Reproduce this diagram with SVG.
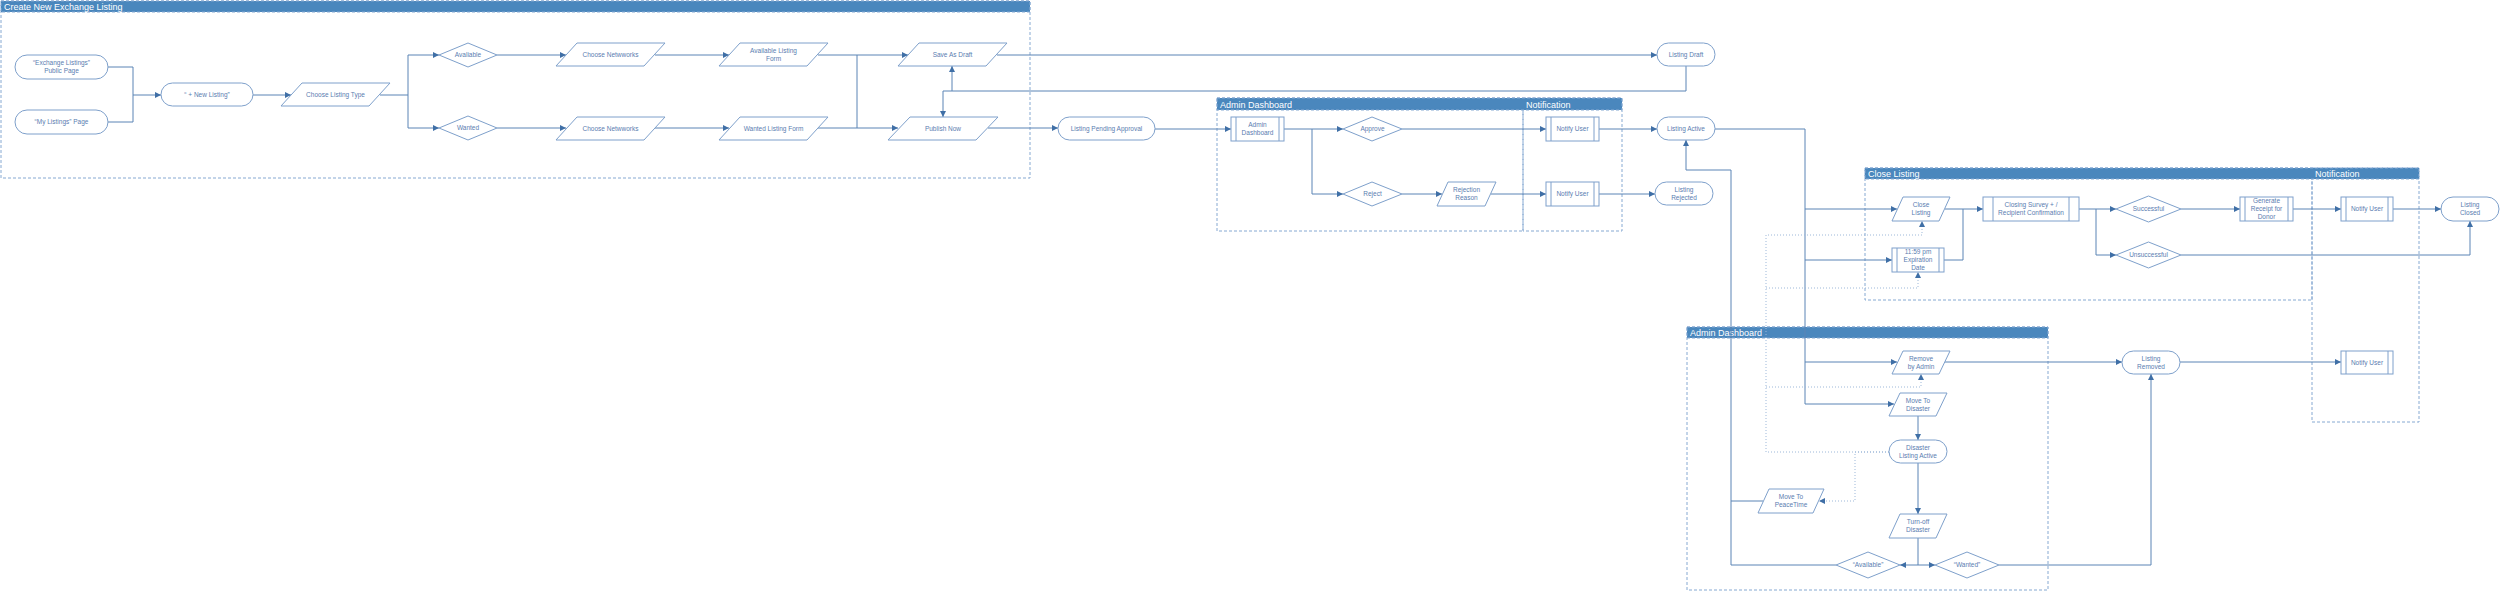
<svg xmlns="http://www.w3.org/2000/svg" width="2500" height="591" viewBox="0 0 2500 591">
<style>
.bg{fill:#ffffff}
.cont{fill:none;stroke:#86a9d2;stroke-width:1;stroke-dasharray:3 2}
.hdr{fill:#4a87bd;stroke:#86a9d2;stroke-width:1;stroke-dasharray:3 2}
.htx{font-family:"Liberation Sans",Arial,sans-serif;font-size:9px;fill:#ffffff}
.n{fill:#ffffff;stroke:#7ea0cb;stroke-width:1}
.t{font-family:"Liberation Sans",Arial,sans-serif;font-size:6.5px;fill:#5a7db0;text-anchor:middle}
.c{fill:none;stroke:#5b84b5;stroke-width:1}
.d{fill:none;stroke:#9db8d9;stroke-width:1;stroke-dasharray:1 2}
</style>
<defs>
<marker id="a" markerUnits="userSpaceOnUse" markerWidth="8" markerHeight="8" refX="6" refY="3" orient="auto"><path d="M0,0 L6,3 L0,6 Z" fill="#3f6fa6"/></marker>
</defs>
<rect class="bg" x="0" y="0" width="2500" height="591"/>

<g id="containers">
<rect class="cont" x="1" y="1" width="1029" height="177"/>
<rect class="hdr" x="1" y="1" width="1029" height="11"/>
<text class="htx" x="4" y="9.5">Create New Exchange Listing</text>

<rect class="cont" x="1217" y="98" width="306" height="133"/>
<rect class="cont" x="1523" y="98" width="99" height="133"/>
<rect class="hdr" x="1217" y="98" width="405" height="12"/>
<text class="htx" x="1220" y="107.5">Admin Dashboard</text>
<text class="htx" x="1526" y="107.5">Notification</text>

<rect class="cont" x="1865" y="168" width="447" height="132"/>
<rect class="cont" x="2312" y="168" width="107" height="254"/>
<rect class="hdr" x="1865" y="168" width="554" height="11"/>
<text class="htx" x="1868" y="177">Close Listing</text>
<text class="htx" x="2315" y="177">Notification</text>

<rect class="cont" x="1687" y="327" width="361" height="263"/>
<rect class="hdr" x="1687" y="327" width="361" height="11"/>
<text class="htx" x="1690" y="336">Admin Dashboard</text>
</g>

<g id="connectors">
<path class="c" d="M108,67 H133 V95 H161" marker-end="url(#a)"/>
<path class="c" d="M108,122 H133 V95"/>
<path class="c" d="M253,95 H291" marker-end="url(#a)"/>
<path class="c" d="M380,95 H408 V55 H439" marker-end="url(#a)"/>
<path class="c" d="M408,95 V128 H439" marker-end="url(#a)"/>
<path class="c" d="M497,55 H566" marker-end="url(#a)"/>
<path class="c" d="M497,128 H566" marker-end="url(#a)"/>
<path class="c" d="M655,55 H729" marker-end="url(#a)"/>
<path class="c" d="M655,128 H729" marker-end="url(#a)"/>
<path class="c" d="M818,55 H857 H908" marker-end="url(#a)"/>
<path class="c" d="M818,128 H857 H898" marker-end="url(#a)"/>
<path class="c" d="M857,55 V128"/>
<path class="c" d="M997,55 H1657" marker-end="url(#a)"/>
<path class="c" d="M1686,66 V91 H943 V117" marker-end="url(#a)"/>
<path class="c" d="M952,91 V66" marker-end="url(#a)"/>
<path class="c" d="M988,128 H1058" marker-end="url(#a)"/>
<path class="c" d="M1155,129 H1231" marker-end="url(#a)"/>
<path class="c" d="M1284,129 H1343" marker-end="url(#a)"/>
<path class="c" d="M1312,129 V194 H1343" marker-end="url(#a)"/>
<path class="c" d="M1402,129 H1546" marker-end="url(#a)"/>
<path class="c" d="M1402,194 H1442" marker-end="url(#a)"/>
<path class="c" d="M1491,194 H1546" marker-end="url(#a)"/>
<path class="c" d="M1599,129 H1657" marker-end="url(#a)"/>
<path class="c" d="M1599,194 H1655" marker-end="url(#a)"/>
<path class="c" d="M1715,129 H1805 V209 H1897" marker-end="url(#a)"/>
<path class="c" d="M1805,209 V260 H1892" marker-end="url(#a)"/>
<path class="c" d="M1805,260 V362 H1897" marker-end="url(#a)"/>
<path class="c" d="M1805,362 V404 H1894" marker-end="url(#a)"/>
<path class="c" d="M1945,209 H1983" marker-end="url(#a)"/>
<path class="c" d="M1944,260 H1963 V209"/>
<path class="c" d="M2079,209 H2116" marker-end="url(#a)"/>
<path class="c" d="M2096,209 V255 H2116" marker-end="url(#a)"/>
<path class="c" d="M2181,209 H2240" marker-end="url(#a)"/>
<path class="c" d="M2293,209 H2341" marker-end="url(#a)"/>
<path class="c" d="M2393,209 H2441" marker-end="url(#a)"/>
<path class="c" d="M2181,255 H2470 V221" marker-end="url(#a)"/>
<path class="c" d="M1945,362 H2122" marker-end="url(#a)"/>
<path class="c" d="M2180,362 H2341" marker-end="url(#a)"/>
<path class="c" d="M1918,416 V440" marker-end="url(#a)"/>
<path class="c" d="M1918,463 V514" marker-end="url(#a)"/>
<path class="c" d="M1918,538 V565 H1900" marker-end="url(#a)"/>
<path class="c" d="M1918,565 H1935" marker-end="url(#a)"/>
<path class="c" d="M1836,565 H1731 V170 H1686 V140" marker-end="url(#a)"/>
<path class="c" d="M1763,501 H1731"/>
<path class="c" d="M1999,565 H2151 V374" marker-end="url(#a)"/>
<path class="d" d="M1889,452 H1855 V501 H1819" marker-end="url(#a)"/>
<path class="d" d="M1889,452 H1766 V235 H1922 V221" marker-end="url(#a)"/>
<path class="d" d="M1766,288 H1918 V272" marker-end="url(#a)"/>
<path class="d" d="M1766,387 H1921 V374" marker-end="url(#a)"/>
</g>

<g id="n1"><rect class="n" x="15" y="55" width="93" height="24" rx="12"/><text class="t" x="61.5" y="65.3">“Exchange Listings”</text><text class="t" x="61.5" y="73.3">Public Page</text></g>
<g id="n2"><rect class="n" x="15" y="110" width="93" height="24" rx="12"/><text class="t" x="61.5" y="124.3">“My Listings” Page</text></g>
<g id="n3"><rect class="n" x="161" y="83" width="92" height="23" rx="11.5"/><text class="t" x="207" y="96.8">“ + New Listing”</text></g>
<g id="n4"><polygon class="n" points="302,83 390,83 369,106 281,106"/><text class="t" x="335.5" y="96.8">Choose Listing Type</text></g>
<g id="n5"><polygon class="n" points="468,43 497,55 468,67 439,55"/><text class="t" x="468" y="57.3">Avaliable</text></g>
<g id="n6"><polygon class="n" points="468,116 497,128 468,140 439,128"/><text class="t" x="468" y="130.3">Wanted</text></g>
<g id="n7"><polygon class="n" points="577,43 665,43 644,66 556,66"/><text class="t" x="610.5" y="57.3">Choose Netwworks</text></g>
<g id="n8"><polygon class="n" points="577,117 665,117 644,140 556,140"/><text class="t" x="610.5" y="130.8">Choose Netwworks</text></g>
<g id="n9"><polygon class="n" points="740,43 828,43 807,66 719,66"/><text class="t" x="773.5" y="53.3">Available Listing</text><text class="t" x="773.5" y="61.3">Form</text></g>
<g id="n10"><polygon class="n" points="740,117 828,117 807,140 719,140"/><text class="t" x="773.5" y="130.8">Wanted Listing Form</text></g>
<g id="n11"><polygon class="n" points="919,43 1007,43 986,66 898,66"/><text class="t" x="952.5" y="57.3">Save As Draft</text></g>
<g id="n12"><polygon class="n" points="910,117 998,117 976,140 888,140"/><text class="t" x="943" y="130.8">Publish Now</text></g>
<g id="n13"><rect class="n" x="1058" y="117" width="97" height="23" rx="11.5"/><text class="t" x="1106.5" y="130.8">Listing Pending Approval</text></g>
<g id="n14"><rect class="n" x="1231" y="117" width="53" height="24"/><path class="n" d="M1236,117 V141 M1279,117 V141"/><text class="t" x="1257.5" y="127.3">Admin</text><text class="t" x="1257.5" y="135.3">Dashboard</text></g>
<g id="n15"><polygon class="n" points="1372,117 1402,129 1372,141 1343,129"/><text class="t" x="1372.5" y="131.3">Approve</text></g>
<g id="n16"><polygon class="n" points="1372,182 1402,194 1372,206 1343,194"/><text class="t" x="1372.5" y="196.3">Reject</text></g>
<g id="n17"><polygon class="n" points="1448,182 1496,182 1485,206 1437,206"/><text class="t" x="1466.5" y="192.3">Rejection</text><text class="t" x="1466.5" y="200.3">Reason</text></g>
<g id="n18"><rect class="n" x="1546" y="117" width="53" height="24"/><path class="n" d="M1551,117 V141 M1594,117 V141"/><text class="t" x="1572.5" y="131.3">Notify User</text></g>
<g id="n19"><rect class="n" x="1546" y="182" width="53" height="24"/><path class="n" d="M1551,182 V206 M1594,182 V206"/><text class="t" x="1572.5" y="196.3">Notify User</text></g>
<g id="n20"><rect class="n" x="1657" y="43" width="58" height="23" rx="11.5"/><text class="t" x="1686" y="56.8">Listing Draft</text></g>
<g id="n21"><rect class="n" x="1657" y="117" width="58" height="23" rx="11.5"/><text class="t" x="1686" y="130.8">Listing Active</text></g>
<g id="n22"><rect class="n" x="1655" y="182" width="58" height="23" rx="11.5"/><text class="t" x="1684" y="192">Listing</text><text class="t" x="1684" y="200">Rejected</text></g>
<g id="n23"><polygon class="n" points="1903,197 1950,197 1939,221 1892,221"/><text class="t" x="1921" y="207.3">Close</text><text class="t" x="1921" y="215.3">Listing</text></g>
<g id="n24"><rect class="n" x="1892" y="248" width="52" height="24"/><path class="n" d="M1897,248 V272 M1939,248 V272"/><text class="t" x="1918" y="254.3">11:59 pm</text><text class="t" x="1918" y="262.3">Expiration</text><text class="t" x="1918" y="270.3">Date</text></g>
<g id="n25"><rect class="n" x="1983" y="197" width="96" height="24"/><path class="n" d="M1993,197 V221 M2069,197 V221"/><text class="t" x="2031" y="207.3">Closing Survey + /</text><text class="t" x="2031" y="215.3">Recipient Confirmation</text></g>
<g id="n26"><polygon class="n" points="2148.5,196 2181,209 2148.5,222 2116,209"/><text class="t" x="2148.5" y="211.3">Successful</text></g>
<g id="n27"><polygon class="n" points="2148.5,242 2181,255 2148.5,268 2116,255"/><text class="t" x="2148.5" y="257.3">Unsuccessful</text></g>
<g id="n28"><rect class="n" x="2240" y="197" width="53" height="24"/><path class="n" d="M2245,197 V221 M2288,197 V221"/><text class="t" x="2266.5" y="203.3">Generate</text><text class="t" x="2266.5" y="211.3">Receipt for</text><text class="t" x="2266.5" y="219.3">Donor</text></g>
<g id="n29"><rect class="n" x="2341" y="197" width="52" height="24"/><path class="n" d="M2346,197 V221 M2388,197 V221"/><text class="t" x="2367" y="211.3">Notify User</text></g>
<g id="n30"><rect class="n" x="2441" y="197" width="58" height="24" rx="12"/><text class="t" x="2470" y="207.3">Listing</text><text class="t" x="2470" y="215.3">Closed</text></g>
<g id="n31"><polygon class="n" points="1903,351 1950,351 1939,374 1892,374"/><text class="t" x="1921" y="360.8">Remove</text><text class="t" x="1921" y="368.8">by Admin</text></g>
<g id="n32"><rect class="n" x="2122" y="351" width="58" height="23" rx="11.5"/><text class="t" x="2151" y="360.8">Listing</text><text class="t" x="2151" y="368.8">Removed</text></g>
<g id="n33"><rect class="n" x="2341" y="351" width="52" height="23"/><path class="n" d="M2346,351 V374 M2388,351 V374"/><text class="t" x="2367" y="364.8">Notify User</text></g>
<g id="n34"><polygon class="n" points="1900,393 1947,393 1936,416 1889,416"/><text class="t" x="1918" y="402.8">Move To</text><text class="t" x="1918" y="410.8">Disaster</text></g>
<g id="n35"><rect class="n" x="1889" y="440" width="58" height="23" rx="11.5"/><text class="t" x="1918" y="449.8">Disaster</text><text class="t" x="1918" y="457.8">Listing Active</text></g>
<g id="n36"><polygon class="n" points="1900,514 1947,514 1936,538 1889,538"/><text class="t" x="1918" y="524.3">Turn-off</text><text class="t" x="1918" y="532.3">Disaster</text></g>
<g id="n37"><polygon class="n" points="1769,489 1824,489 1813,513 1758,513"/><text class="t" x="1791" y="499.3">Move To</text><text class="t" x="1791" y="507.3">PeaceTime</text></g>
<g id="n38"><polygon class="n" points="1868,552 1900,565 1868,578 1836,565"/><text class="t" x="1868" y="567.3">“Available”</text></g>
<g id="n39"><polygon class="n" points="1967,552 1999,565 1967,578 1935,565"/><text class="t" x="1967" y="567.3">“Wanted”</text></g>
</svg>
